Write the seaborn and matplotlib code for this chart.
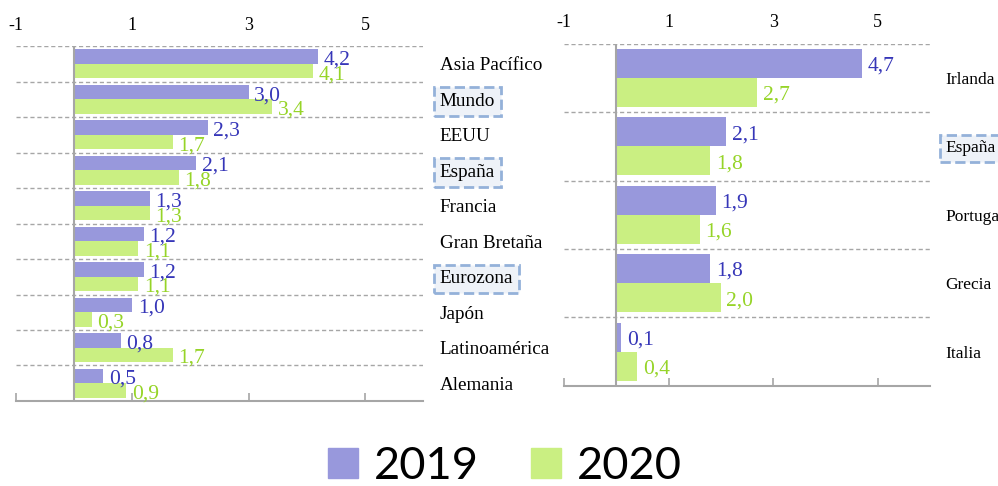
import seaborn as sns
import matplotlib.pyplot as plt
import matplotlib.patches as mpatches
import pandas as pd
import numpy as np

# datos del grafico izquierdo
regiones = ["Asia Pacífico", "Mundo", "EEUU", "España", "Francia", "Gran Bretaña",
            "Eurozona", "Japón", "Latinoamérica", "Alemania"]
valores2019 = [4.2, 3.0, 2.3, 2.1, 1.3, 1.2, 1.2, 1.0, 0.8, 0.5]
valores2020 = [4.1, 3.4, 1.7, 1.8, 1.3, 1.1, 1.1, 0.3, 1.7, 0.9]

# datos del grafico derecho
paises = ["Irlanda", "España", "Portugal", "Grecia", "Italia"]
paises2019 = [4.7, 2.1, 1.9, 1.8, 0.1]
paises2020 = [2.7, 1.8, 1.6, 2.0, 0.4]

anios = ["2019", "2020"]
destacados = ["Mundo", "España", "Eurozona"]
ticks = [-1, 1, 3, 5]

colores = ["#9898dc", "#caef82"]
coloresTexto = ["#3636b8", "#96d428"]
gris = "#a6a6a6"

plt.rcParams['font.family'] = ['Liberation Serif', 'DejaVu Serif']


def armarTabla(categorias, v2019, v2020):
    return pd.DataFrame({
        "categoria": categorias * 2,
        "anio": [anios[0]] * len(categorias) + [anios[1]] * len(categorias),
        "valor": v2019 + v2020,
    })


def dibujar(ax, tabla, n, ancho, tamTick, tamCat, tamValor, padCat, bajar):
    sns.barplot(data=tabla, x="valor", y="categoria", hue="anio", orient="h",
                palette=colores, saturation=1, width=ancho, ax=ax, legend=False)
    ax.set_xlim(-1, 6)
    ax.set_ylim(n - 0.5, -0.5)
    ax.set_xlabel("")
    ax.set_ylabel("")

    # eje x arriba con etiquetas, marcas abajo
    ax.set_xticks(ticks)
    ax.set_xticklabels([str(t) for t in ticks], fontsize=tamTick)
    ax.tick_params(axis="x", top=False, bottom=True, labeltop=True, labelbottom=False,
                   direction="in", length=6, color=gris, width=1.2, pad=9)

    # categorias a la derecha
    ax.yaxis.tick_right()
    ax.tick_params(axis="y", which="both", length=0, pad=padCat, labelsize=tamCat)
    for lbl in ax.get_yticklabels():
        lbl.set_horizontalalignment("left")
        if lbl.get_text() in destacados:
            lbl.set_bbox(dict(boxstyle="square,pad=0.3", fc="#eef2f8", ec="#94b1d9",
                              ls="--", lw=2))

    # lineas de division
    ax.set_yticks(np.arange(n + 1) - 0.5, minor=True)
    ax.grid(False)
    ax.grid(axis="y", which="minor", ls=(0, (3, 2)), color=gris, lw=1)
    ax.set_axisbelow(True)
    ax.axvline(0, color=gris, lw=1.5, zorder=3)

    for s in ["top", "left", "right"]:
        ax.spines[s].set_visible(False)
    ax.spines["bottom"].set_color(gris)
    ax.spines["bottom"].set_linewidth(1.5)

    for cont, col in zip(ax.containers, coloresTexto):
        etiquetas = [f"{b.get_width():.1f}".replace(".", ",") for b in cont]
        textos = ax.bar_label(cont, labels=etiquetas, padding=4, color=col, fontsize=tamValor)
        for t in textos:
            t.xyann = (4, -bajar)


fig = plt.figure(figsize=(9.98, 4.86), dpi=100)
ax1 = fig.add_axes([0.016, 0.175, 0.408, 0.730])
ax2 = fig.add_axes([0.565, 0.206, 0.367, 0.704])

dibujar(ax1, armarTabla(regiones, valores2019, valores2020), len(regiones), 0.82, 13, 13.8, 15.5, 12, 2.5)
dibujar(ax2, armarTabla(paises, paises2019, paises2020), len(paises), 0.85, 13, 12.5, 15.5, 11, 2)

handles = [mpatches.Patch(color=c, label=a) for c, a in zip(colores, anios)]
fig.legend(handles=handles, loc="center", bbox_to_anchor=(0.506, 0.041), ncol=2, frameon=False,
           prop={"family": "Lato", "size": 32.5}, handlelength=0.66, handleheight=0.66,
           handletextpad=0.35, columnspacing=1.15, borderpad=0.1)

plt.savefig("out.png", dpi=100)
